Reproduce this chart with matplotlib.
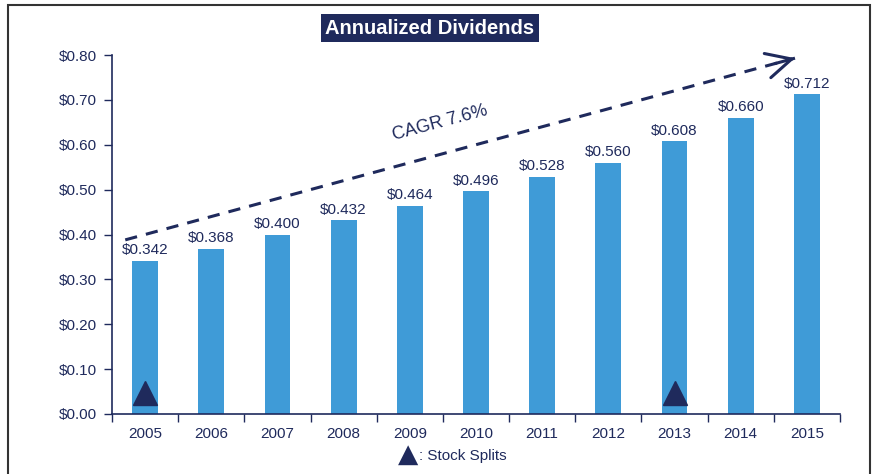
import matplotlib.pyplot as plt
from matplotlib.patches import Rectangle

# data
years = ["2005", "2006", "2007", "2008", "2009", "2010",
         "2011", "2012", "2013", "2014", "2015"]
dividends = [0.342, 0.368, 0.400, 0.432, 0.464, 0.496,
             0.528, 0.560, 0.608, 0.660, 0.712]
split_years = ["2005", "2013"]
split_marker_y = 0.047
yticks = [0.0, 0.1, 0.2, 0.3, 0.4, 0.5, 0.6, 0.7, 0.8]
cagr_label = "CAGR 7.6%"
cagr_start = (-0.3, 0.388)
cagr_end = (9.82, 0.793)

navy = "#1F2A5C"
bar_blue = "#3F9BD7"

plt.rcParams['font.family'] = ['Liberation Sans', 'DejaVu Sans']

fig = plt.figure(figsize=(8.75, 4.74), dpi=100)
ax = fig.add_axes([112 / 875, 1 - 414 / 474, 728 / 875, 359 / 474])

x = list(range(len(years)))
ax.bar(x, dividends, width=0.39, color=bar_blue, zorder=2)

for xi, v in zip(x, dividends):
    ax.text(xi, v + 0.008, f"${v:.3f}", ha="center", va="bottom",
            fontsize=11, color=navy)

# stock split markers
sx = [years.index(y) for y in split_years]
ax.plot(sx, [split_marker_y] * len(sx), linestyle="none", marker="^",
        markersize=17, color=navy, zorder=3)

# CAGR arrow: dashed shaft + solid open head
ax.plot([cagr_start[0], cagr_end[0]], [cagr_start[1], cagr_end[1]],
        color=navy, lw=2.2, linestyle=(0, (4, 3)), zorder=3)
t = 0.97
head_from = (cagr_start[0] + t * (cagr_end[0] - cagr_start[0]),
             cagr_start[1] + t * (cagr_end[1] - cagr_start[1]))
ax.annotate("", xy=cagr_end, xytext=head_from,
            arrowprops=dict(arrowstyle="->,head_length=0.6,head_width=0.3",
                            color=navy, lw=2.2, mutation_scale=30,
                            shrinkA=0, shrinkB=0))
ax.text(4.45, 0.648, cagr_label, rotation=15, ha="center", va="center",
        fontsize=13, color=navy, rotation_mode="anchor")

ax.set_xlim(-0.5, len(years) - 0.5)
ax.set_ylim(0, 0.8)
ax.set_yticks(yticks)
ax.set_yticklabels([f"${t:.2f}" for t in yticks])
ax.set_xticks(x)
ax.set_xticklabels(years)
ax.set_xticks([i - 0.5 for i in range(len(years) + 1)], minor=True)
ax.tick_params(axis="x", which="major", length=0, pad=9)
ax.tick_params(axis="x", which="minor", length=6, direction="out",
               color=navy, width=1)
ax.tick_params(axis="y", length=6, direction="out", color=navy,
               width=1, pad=5)
ax.tick_params(labelsize=11, labelcolor=navy)

for side in ["top", "right"]:
    ax.spines[side].set_visible(False)
for side in ["left", "bottom"]:
    ax.spines[side].set_color(navy)
    ax.spines[side].set_linewidth(1.2)

# title box
fig.text(430 / 875, 1 - 28 / 474, "Annualized Dividends", ha="center",
         va="center", fontsize=14.5, fontweight="bold", color="white",
         bbox=dict(boxstyle="square,pad=0.2", facecolor=navy, edgecolor="none"))

# legend for splits
fig.text(408 / 875, 1 - 455 / 474, "\u25B2", ha="center", va="center",
         fontsize=19, color=navy, family=["DejaVu Sans"])
fig.text(419 / 875, 1 - 456 / 474, ": Stock Splits", ha="left",
         va="center", fontsize=11, color=navy)

# outer frame
fig.patches.append(Rectangle((8 / 875, -0.05), 862 / 875, 1.05 - 5 / 474,
                             transform=fig.transFigure, fill=False,
                             edgecolor="#333333", linewidth=1.5))

fig.savefig("out.png", dpi=100)
